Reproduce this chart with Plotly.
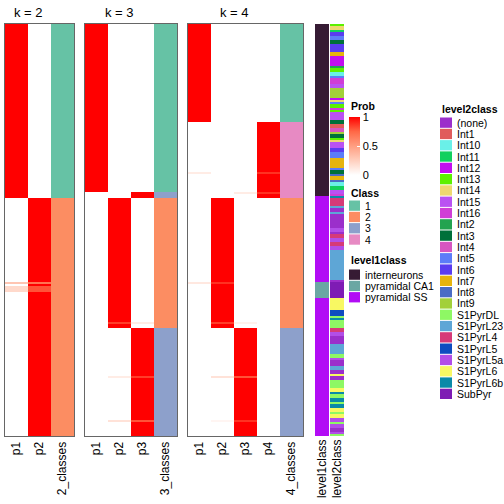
import numpy as np
import plotly.graph_objects as go

N_ROWS = 206

# ---- membership probabilities, run-length encoded (value, number of rows) ----
k2_p1 = [(1.0, 87), (0.0, 42), (0.3, 1), (0.0, 1), (0.2, 3), (0.0, 72)]
k2_p2 = [(0.0, 87), (1.0, 42), (0.7, 1), (1.0, 1), (0.8, 3), (1.0, 72)]
k2_class = [(1, 87), (2, 119)]

k3_p1 = [(1.0, 84), (0.0, 122)]
k3_p2 = [(0.0, 87), (1.0, 62), (0.85, 1), (1.0, 2), (0.0, 24), (0.1, 1), (0.0, 21), (0.15, 1), (0.0, 7)]
k3_p3 = [(0.0, 84), (1.0, 3), (0.0, 62), (0.1, 1), (0.0, 2), (1.0, 24), (0.85, 1), (1.0, 21), (0.8, 1), (1.0, 7)]
k3_class = [(1, 84), (3, 3), (2, 65), (3, 54)]

k4_p1 = [(1.0, 49), (0.0, 25), (0.1, 1), (0.0, 54), (0.12, 1), (0.0, 76)]
k4_p2 = [(0.0, 87), (1.0, 42), (0.88, 1), (1.0, 19), (0.85, 1), (1.0, 2), (0.0, 24), (0.15, 1), (0.0, 21), (0.05, 1), (0.0, 7)]
k4_p3 = [(0.0, 84), (0.1, 1), (0.0, 64), (0.07, 1), (0.0, 2), (1.0, 24), (0.8, 1), (1.0, 21), (0.88, 1), (1.0, 7)]
k4_p4 = [(0.0, 49), (1.0, 25), (0.88, 1), (1.0, 9), (0.88, 1), (1.0, 2), (0.0, 119)]
k4_class = [(1, 49), (4, 38), (2, 65), (3, 54)]

level1_runs = [("interneurons", 86), ("pyramidal SS", 43), ("pyramidal CA1", 8), ("pyramidal SS", 69)]

level2_runs = [
    ("Int13", 1), ("Int14", 2), ("Int11", 1), ("Int6", 2), ("Int5", 2), ("Int3", 2), ("Int6", 4),
    ("Int7", 2), ("Int12", 5), ("Int2", 1), ("Int13", 2), ("Int10", 2), ("Int5", 1), ("Int16", 3),
    ("Int15", 2), ("Int9", 5), ("Int12", 1), ("Int14", 1), ("Int5", 1), ("Int13", 2), ("Int16", 1),
    ("Int13", 1), ("Int15", 4), ("Int3", 2), ("Int1", 2), ("Int4", 2), ("Int9", 1), ("Int3", 2),
    ("Int13", 1), ("Int14", 1), ("Int15", 3), ("Int6", 2), ("Int5", 3), ("Int7", 5), ("Int5", 1),
    ("Int3", 2), ("Int8", 1), ("Int7", 2), ("Int8", 1), ("Int10", 2), ("Int11", 2), ("Int15", 2),
    ("Int16", 1),
    ("S1PyrL6b", 1), ("S1PyrL4", 4), ("S1PyrL23", 1), ("(none)", 2), ("S1PyrL23", 1), ("(none)", 7),
    ("S1PyrL5a", 2), ("(none)", 1), ("S1PyrL4", 2), ("S1PyrL5a", 2), ("S1PyrL4", 2), ("S1PyrL5a", 2),
    ("S1PyrL23", 15), ("(none)", 1), ("SubPyr", 8), ("S1PyrL6", 6), ("S1PyrL5", 3), ("S1PyrDL", 1),
    ("S1PyrL6b", 1), ("S1PyrDL", 4), ("S1PyrL4", 2), ("S1PyrL5a", 2), ("(none)", 4), ("S1PyrL23", 5),
    ("S1PyrDL", 2), ("S1PyrL5a", 1), ("(none)", 3), ("S1PyrL23", 2), ("(none)", 2), ("S1PyrL6", 1),
    ("(none)", 2), ("S1PyrDL", 4), ("S1PyrL6", 2), ("S1PyrL6b", 1), ("S1PyrDL", 2), ("S1PyrL6b", 2),
    ("S1PyrDL", 1), ("S1PyrL6b", 2), ("S1PyrL6", 2), ("S1PyrDL", 1), ("S1PyrL6", 2), ("S1PyrL5a", 2),
    ("S1PyrDL", 1), ("S1PyrL5a", 2), ("(none)", 2), ("S1PyrL5a", 1), ("S1PyrDL", 1),
]

class_labels = ["1", "2", "3", "4"]
class_colors = ["#66C2A5", "#FC8D62", "#8DA0CB", "#E78AC3"]

level1_names = ["interneurons", "pyramidal CA1", "pyramidal SS"]
level1_colors = ["#361B34", "#6AA7A3", "#B20CF5"]

level2_names = ["(none)", "Int1", "Int10", "Int11", "Int12", "Int13", "Int14", "Int15", "Int16",
                "Int2", "Int3", "Int4", "Int5", "Int6", "Int7", "Int8", "Int9", "S1PyrDL",
                "S1PyrL23", "S1PyrL4", "S1PyrL5", "S1PyrL5a", "S1PyrL6", "S1PyrL6b", "SubPyr"]
level2_colors = ["#9B2FCB", "#E05C5C", "#6AF0E8", "#12D05E", "#C20EF0", "#5CF000", "#EED870",
                 "#BA52F2", "#D03ED6", "#22A350", "#00703A", "#D656C0", "#5C7CF8", "#5A3CF0",
                 "#E6B40E", "#4A6CC4", "#A2D03A", "#8EF864", "#5EA6D6", "#D63A78", "#0E4CC0",
                 "#B24EE8", "#F8F862", "#0A8AA8", "#7E1CB4"]

prob_scale = [[0.0, "#FFFFFF"], [0.25, "rgb(255,207,190)"], [0.5, "rgb(255,158,129)"],
              [0.75, "rgb(255,104,70)"], [1.0, "#FF0000"]]

FONT = "Liberation Sans, Arial, sans-serif"
W = H = 504


def expand(runs):
    out = []
    for v, n in runs:
        out.extend([v] * n)
    return out


def discrete_scale(colors):
    n = len(colors)
    sc = []
    for i, c in enumerate(colors):
        sc.append([i / n, c])
        sc.append([(i + 1) / n, c])
    return sc


def px_x(p):
    return p / W


def px_y(p):
    return 1 - p / H


fig = go.Figure()
ydom = [px_y(436), px_y(24)]
yrange = [N_ROWS - 0.5, -0.5]
rows = list(range(N_ROWS))

panels = [
    ("k = 2", [k2_p1, k2_p2], k2_class, (5, 74)),
    ("k = 3", [k3_p1, k3_p2, k3_p3], k3_class, (85, 177)),
    ("k = 4", [k4_p1, k4_p2, k4_p3, k4_p4], k4_class, (188, 303)),
]

layout_axes = {}
annotations = []
for i, (title, cols, cls, (x0, x1)) in enumerate(panels):
    n = i + 1
    k = len(cols)
    xa = "x" if n == 1 else f"x{n}"
    ya = "y" if n == 1 else f"y{n}"
    z = np.array([expand(c) for c in cols]).T
    hm = go.Heatmap(z=z, x=list(range(k)), y=rows, colorscale=prob_scale, zmin=0, zmax=1,
                    xaxis=xa, yaxis=ya, showscale=(n == 1), hoverinfo="skip")
    if n == 1:
        hm.colorbar = dict(x=px_x(349), xanchor="left", y=px_y(117), yanchor="top",
                           len=58, lenmode="pixels", thickness=11, thicknessmode="pixels",
                           xpad=0, ypad=0, outlinewidth=0, tickvals=[0, 0.5, 1],
                           ticktext=["0", "0.5", "1"], ticks="inside", ticklen=3,
                           tickcolor="white", tickfont=dict(size=11, family=FONT, color="black"))
    fig.add_trace(hm)
    cz = [[c - 1] for c in expand(cls)]
    fig.add_trace(go.Heatmap(z=cz, x=[k], y=rows, colorscale=discrete_scale(class_colors),
                             zmin=-0.5, zmax=3.5, showscale=False, xaxis=xa, yaxis=ya,
                             hoverinfo="skip"))
    layout_axes["xaxis" if n == 1 else f"xaxis{n}"] = dict(
        domain=[px_x(x0), px_x(x1)], anchor=ya, range=[-0.5, k + 0.5],
        tickvals=list(range(k + 1)), ticktext=[f"p{j+1}" for j in range(k)] + [f"{k}_classes"],
        tickangle=-90, ticks="", showgrid=False, zeroline=False, showline=True, mirror=True,
        linecolor="#666666", linewidth=1, tickfont=dict(size=12, family=FONT, color="black"),
        fixedrange=True)
    layout_axes["yaxis" if n == 1 else f"yaxis{n}"] = dict(
        domain=ydom, anchor=xa, range=yrange, showticklabels=False, ticks="", showgrid=False,
        zeroline=False, showline=True, mirror=True, linecolor="#666666", linewidth=1,
        fixedrange=True)
    annotations.append(dict(text=title, x=(k - 1) / 2, xref=xa, y=px_y(12), yref="paper",
                            showarrow=False, xanchor="center", yanchor="middle",
                            font=dict(size=13, family=FONT, color="black")))

# level annotations
lvl = [
    ("level1class", [[level1_names.index(v)] for v in expand(level1_runs)], level1_colors, (315, 329)),
    ("level2class", [[level2_names.index(v)] for v in expand(level2_runs)], level2_colors, (330, 344)),
]
for j, (name, z, colors, (x0, x1)) in enumerate(lvl):
    n = 4 + j
    xa, ya = f"x{n}", f"y{n}"
    fig.add_trace(go.Heatmap(z=z, x=[0], y=rows, colorscale=discrete_scale(colors),
                             zmin=-0.5, zmax=len(colors) - 0.5, showscale=False,
                             xaxis=xa, yaxis=ya, hoverinfo="skip"))
    layout_axes[f"xaxis{n}"] = dict(domain=[px_x(x0), px_x(x1)], anchor=ya, range=[-0.5, 0.5],
                                    tickvals=[0], ticktext=[name], tickangle=-90, ticks="",
                                    showgrid=False, zeroline=False, showline=False,
                                    tickfont=dict(size=12, family=FONT, color="black"),
                                    fixedrange=True)
    layout_axes[f"yaxis{n}"] = dict(domain=ydom, anchor=xa, range=yrange, visible=False,
                                    fixedrange=True)

# legends
shapes = []


def legend_title(text, x, y):
    annotations.append(dict(text=f"<b>{text}</b>", x=px_x(x), y=px_y(y), xref="paper",
                            yref="paper", xanchor="left", yanchor="middle", showarrow=False,
                            font=dict(size=10.5, family=FONT, color="black")))


def legend_items(labels, colors, x, y_top, step=11.3, sw=11):
    for i, (lab, col) in enumerate(zip(labels, colors)):
        t = y_top + i * step
        shapes.append(dict(type="rect", xref="paper", yref="paper", x0=px_x(x), x1=px_x(x + sw),
                           y0=px_y(t + step - 1), y1=px_y(t), fillcolor=col, line=dict(width=0)))
        annotations.append(dict(text=lab, x=px_x(x + sw + 3), y=px_y(t + step / 2 - 0.5),
                                xref="paper", yref="paper", xanchor="left", yanchor="middle",
                                showarrow=False, font=dict(size=10.5, family=FONT, color="black")))


legend_title("Prob", 349, 106)
legend_title("Class", 349, 193)
legend_items(class_labels, class_colors, 349, 200.5)
legend_title("level1class", 349, 260)
legend_items(level1_names, level1_colors, 349, 269.5)
legend_title("level2class", 440, 109)
legend_items(level2_names, level2_colors, 440, 117.5, sw=12)

fig.update_layout(width=W, height=H, margin=dict(l=0, r=0, t=0, b=0, autoexpand=False),
                  paper_bgcolor="white", plot_bgcolor="white", showlegend=False,
                  annotations=annotations, shapes=shapes, font=dict(family=FONT), **layout_axes)

fig.write_html("out.html", config={"displayModeBar": False},
               post_script="document.body.style.margin='0px';document.body.style.overflow='hidden';")
